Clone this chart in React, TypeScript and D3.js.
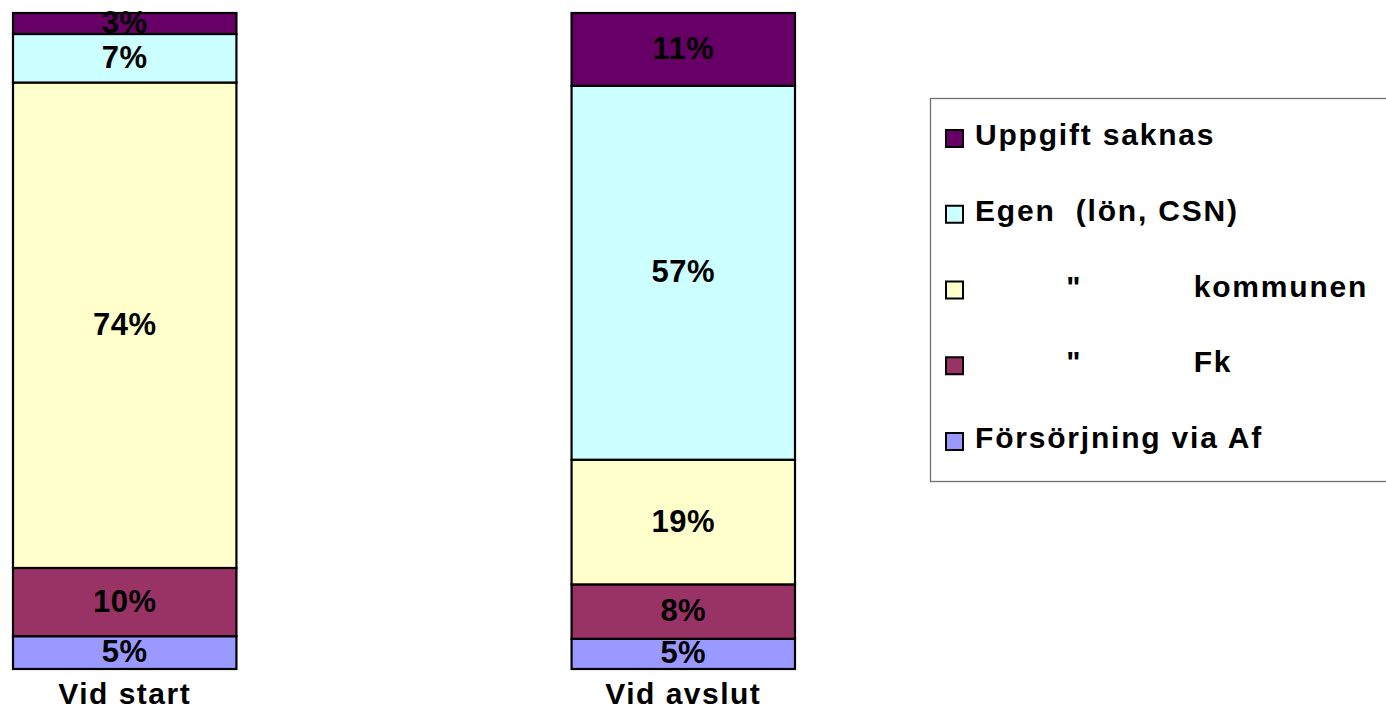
import React from "react";
import * as d3 from "d3";

const categories = ["Vid start", "Vid avslut"];
const seriesNames = [
  "Försörjning via Af",
  '         "           Fk',
  '         "           kommunen',
  "Egen  (lön, CSN)",
  "Uppgift saknas",
];
const seriesColors = ["#9999FF", "#993366", "#FFFFCC", "#CCFFFF", "#660066"];
// percent values, bottom to top
const vidStart = [5.0, 10.4, 74.0, 7.4, 3.2];
const vidAvslut = [4.6, 8.3, 19.0, 57.0, 11.1];

const W = 1386;
const H = 713;
const FONT = "'Liberation Sans', Arial, Helvetica, sans-serif";

export default function App() {
  const values = [vidStart, vidAvslut];
  const x = d3.scaleBand<string>().domain(categories).range([13, 795]).paddingInner(0.6).paddingOuter(0);
  const y = d3.scaleLinear().domain([0, 100]).range([669, 13]);

  const rows = categories.map((c, i) => {
    const obj: Record<string, number | string> = { cat: c };
    seriesNames.forEach((s, j) => (obj[s] = values[i][j]));
    return obj;
  });
  const stack = d3.stack<any>().keys(seriesNames)(rows as any);

  const legendItems = seriesNames.map((s, i) => ({ name: s, color: seriesColors[i] })).reverse();
  const legendY = d3.scalePoint<string>().domain(legendItems.map((d) => d.name)).range([138, 441]);

  return (
    <svg width={W} height={H} style={{ position: "absolute", left: 0, top: 0, background: "#fff" }} fontFamily={FONT}>
      {stack.map((layer, j) => (
        <g key={j}>
          {layer.map((seg, i) => {
            const cat = categories[i];
            const x0 = x(cat)!;
            const y0 = y(seg[1]);
            const y1 = y(seg[0]);
            return (
              <rect key={i} x={x0} y={y0} width={x.bandwidth()} height={y1 - y0} fill={seriesColors[j]} stroke="#000" strokeWidth={2.2} />
            );
          })}
        </g>
      ))}
      {stack.map((layer, j) => (
        <g key={"l" + j}>
          {layer.map((seg, i) => {
            const cat = categories[i];
            const cx = x(cat)! + x.bandwidth() / 2;
            const cy = (y(seg[1]) + y(seg[0])) / 2;
            const v = seg[1] - seg[0];
            return (
              <text key={i} x={cx} y={cy + 9.5} textAnchor="middle" fontSize={31} fontWeight="bold" fill="#000" letterSpacing={0.5}>
                {Math.round(v) + "%"}
              </text>
            );
          })}
        </g>
      ))}
      {categories.map((c) => (
        <text key={c} x={x(c)! + x.bandwidth() / 2} y={704} textAnchor="middle" fontSize={30} fontWeight="bold" letterSpacing={1.5}>
          {c}
        </text>
      ))}
      <rect x={930.5} y={98.5} width={500} height={383} fill="#fff" stroke="#707070" strokeWidth={1.3} />
      {legendItems.map((d) => {
        const cy = legendY(d.name)!;
        return (
          <g key={d.name}>
            <rect x={946} y={cy - 8} width={17} height={17} fill={d.color} stroke="#000" strokeWidth={2} />
            <text x={975} y={cy + 7} fontSize={30} fontWeight="bold" letterSpacing={1.8} style={{ whiteSpace: "pre" }}>
              {d.name}
            </text>
          </g>
        );
      })}
    </svg>
  );
}
